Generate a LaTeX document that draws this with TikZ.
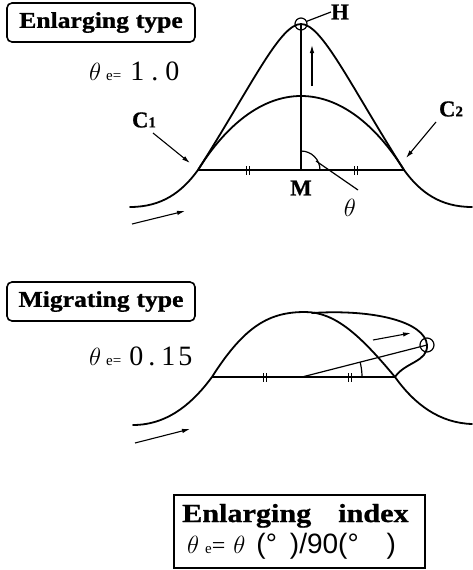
\documentclass[tikz,border=0pt]{standalone}
\usepackage{fontspec}
\usepackage{graphicx}
\setmainfont{Liberation Serif}
\newfontfamily\sansf{Liberation Sans}
\newfontface\heavyb{Liberation Serif Bold}[FakeBold=0.8]
\usetikzlibrary{arrows.meta}
\newcommand{\fsz}[1]{\fontsize{#1}{#1}\selectfont}
\begin{document}
\begin{tikzpicture}[x=1pt,y=-1pt,
  curve/.style={line width=1.8pt, line cap=round},
  thinl/.style={line width=1.2pt},
  arr/.style={line width=1.1pt, -{Latex[length=8pt,width=4.5pt]}},
  tbox/.style={draw, line width=1.6pt, rounded corners=5pt, minimum width=188pt, minimum height=39pt, inner sep=0pt, font=\heavyb\fsz{22.7}},
  lab/.style={inner sep=0pt, font=\heavyb\fsz{22.7}},
  ringmark/.style={circle, draw, line width=1.2pt, inner sep=0pt},
]
\useasboundingbox (0,0) rectangle (472,570);

% ---------- Enlarging type ----------
\node[tbox] (t1) at (101,22.5) {\scalebox{1.13}[1]{Enlarging\hspace{6pt}type}};
\node[inner sep=0pt, anchor=base west] (te1) at (89,80)
  {\fsz{25}$\theta$\hspace{5pt}{\fsz{15}e=}\hspace{9pt}{\fsz{28}1\hspace{7pt}.\hspace{7pt}0}};

\coordinate (L1) at (130,207);
\coordinate (C1) at (198,170);
\coordinate (M1) at (301,170);
\coordinate (C2) at (404,170);
\coordinate (R1) at (472,207);
\coordinate (H) at (301,24);
\coordinate (P1) at (301,96);

\draw[curve] (L1) .. controls (162,207) and (182,192) .. (C1)
  .. controls (252,85) and (280,24) .. (H)
  .. controls (322,24) and (350,85) .. (C2)
  .. controls (420,192) and (440,207) .. (R1);
\draw[curve] (C1) .. controls (226,125) and (262,96) .. (P1)
  .. controls (340,96) and (376,125) .. (C2);

\draw[thinl] (C1) -- (C2);
\node[ringmark, minimum size=12pt] (Hc) at (H) {};
\draw[line width=1.6pt] (M1) -- (Hc.center);
\foreach \x in {248,356} {
  \draw[thinl] (\x-1.6,166) -- (\x-1.6,175) (\x+1.6,166) -- (\x+1.6,175);
}
\draw[thinl] (301,151) arc[start angle=-90, end angle=0, radius=19];

\node[lab] (Hlab) at (340,12) {H};
\node[lab] (Mlab) at (301,188) {M};
\node[inner sep=0pt, font=\fsz{24}] (thlab) at (350,208) {$\theta$};
\node[lab] (C1lab) at (144,120) {C{\fsz{15}1}};
\node[lab] (C2lab) at (451,109) {C{\fsz{15}2}};

\coordinate (thA) at (316,161);
\coordinate (thB) at (358,190);
\draw[thinl] (thA) -- (thB);
\draw[thinl] (Hc.25) -- (Hlab.west);

\coordinate (upA) at (312,86);
\coordinate (upB) at (312,45);
\draw[arr] (upA) -- (upB);
\coordinate (c1A) at (153,133);
\coordinate (c1B) at (190,163);
\draw[arr] (c1A) -- (c1B);
\coordinate (c2A) at (436,122);
\coordinate (c2B) at (406,158);
\draw[arr] (c2A) -- (c2B);
\coordinate (f1A) at (132,224);
\coordinate (f1B) at (185,211);
\draw[arr] (f1A) -- (f1B);

% ---------- Migrating type ----------
\node[tbox] (t2) at (101,301.5) {\scalebox{1.13}[1]{Migrating\hspace{6pt}type}};
\node[inner sep=0pt, anchor=base west] (te2) at (89,365)
  {\fsz{25}$\theta$\hspace{5pt}{\fsz{15}e=}\hspace{8pt}{\fsz{28}0\hspace{5pt}.\hspace{6pt}1\hspace{3pt}5}};

\coordinate (L2) at (133,425);
\coordinate (C3) at (212,377);
\coordinate (M2) at (302,377);
\coordinate (C4) at (395,377);
\coordinate (R2) at (472,424);
\coordinate (P2) at (305,312);
\coordinate (P3) at (312,313);

\draw[curve] (L2) .. controls (170,425) and (195,400) .. (C3)
  .. controls (245,325) and (270,312) .. (P2)
  .. controls (335,312) and (360,335) .. (C4)
  .. controls (415,405) and (440,423) .. (R2);
\node[ringmark, minimum size=14pt] (Gc) at (427,345) {};
\draw[curve] (P3) .. controls (375,309) and (425,322) .. (Gc.center)
  .. controls (428,362) and (405,362) .. (C4);

\draw[thinl] (C3) -- (C4);
\draw[thinl] (M2) -- (Gc.center);
\draw[thinl] (362,377) arc[start angle=0, end angle=-14.4, radius=60];
\foreach \x in {265,350} {
  \draw[thinl] (\x-1.6,373) -- (\x-1.6,382) (\x+1.6,373) -- (\x+1.6,382);
}
\coordinate (mA) at (373,340);
\coordinate (mB) at (411,333);
\draw[arr] (mA) -- (mB);
\coordinate (f2A) at (135,443);
\coordinate (f2B) at (190,429);
\draw[arr] (f2A) -- (f2B);

% ---------- Enlarging index ----------
\node[draw, line width=1.5pt, minimum width=251pt, minimum height=73pt, inner sep=0pt] (ib) at (299.5,531.5) {};
\node[inner sep=0pt, anchor=base west, font=\heavyb\fsz{26}] (ib1) at (182,522)
  {\scalebox{1.16}[1]{Enlarging}\hspace{27pt}\scalebox{1.16}[1]{index}};
\node[inner sep=0pt, anchor=base west] (ib2) at (187,553)
  {\fsz{25}$\theta$\hspace{6pt}{\fsz{15}e}{\fsz{24}=}\hspace{8pt}$\theta$\hspace{11pt}{\sansf\fsz{28}(°\hspace{13pt})/90(°\hspace{28pt})}};
\end{tikzpicture}
\end{document}
